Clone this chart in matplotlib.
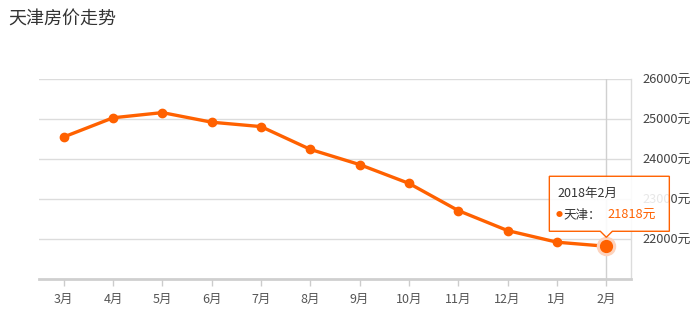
import matplotlib
matplotlib.use("Agg")
import matplotlib.pyplot as plt
import matplotlib.transforms as mtransforms
from matplotlib.patches import Polygon

plt.rcParams["font.family"] = ["Noto Sans CJK SC", "DejaVu Sans"]

# Data
months = ["3月", "4月", "5月", "6月", "7月", "8月", "9月", "10月", "11月", "12月", "1月", "2月"]
prices = [24550, 25030, 25160, 24920, 24810, 24240, 23860, 23390, 22710, 22210, 21920, 21818]
ytick_values = [22000, 23000, 24000, 25000, 26000]
ytick_labels = [f"{v}元" for v in ytick_values]
title = "天津房价走势"
tip_date = "2018年2月"
tip_series = "天津："
tip_value = "21818元"

ORANGE = "#ff6100"
GRID = "#dcdcdc"

fig = plt.figure(figsize=(7.0, 3.24), dpi=100)
ax = fig.add_axes([39 / 700, 45 / 324, 592 / 700, 200 / 324])

x = list(range(len(months)))

# Crosshair on the highlighted month
hi = len(months) - 1
ax.axvline(hi, color="#d0d0d0", lw=1, zorder=1)

ax.plot(x, prices, color=ORANGE, lw=2.4, marker="o", markersize=6,
        zorder=3, solid_joinstyle="round")

# Highlighted point with halo
ax.plot([hi], [prices[hi]], "o", color="#fdd3bd", markersize=13, zorder=4)
ax.plot([hi], [prices[hi]], "o", color=ORANGE, markersize=8.5, zorder=5)

ax.set_xlim(-0.5, len(months) - 0.5)
ax.set_ylim(21000, 26000)
ax.set_xticks(x)
ax.set_xticklabels(months)
ax.set_yticks(ytick_values)
ax.set_yticklabels(ytick_labels)
ax.yaxis.tick_right()

ax.grid(axis="y", color=GRID, lw=1)
ax.set_axisbelow(True)

for side in ["top", "left"]:
    ax.spines[side].set_visible(False)
ax.spines["right"].set_color(GRID)
ax.spines["right"].set_linewidth(1)
ax.spines["bottom"].set_color("#cfcfcf")
ax.spines["bottom"].set_linewidth(2)

ax.tick_params(axis="x", length=5, width=1, color="#cccccc",
               labelcolor="#555555", labelsize=9, pad=5)
ax.tick_params(axis="y", length=0, labelcolor="#444444", labelsize=9.2, pad=8)

fig.text(8 / 700, 1 - 20 / 324, title, fontsize=13, color="#333333",
         va="center", ha="left")

# Tooltip, laid out in pixels relative to the highlighted point (y down)
trans = mtransforms.Affine2D().scale(1, -1) + mtransforms.ScaledTranslation(
    hi, prices[hi], ax.transData)
box = [(-57, -70), (63, -70), (63, -15), (6, -15), (0, -9), (-6, -15), (-57, -15)]
ax.add_patch(Polygon(box, closed=True, transform=trans, facecolor="white",
                     alpha=0.88, edgecolor="none", zorder=10,
                     clip_on=False))
ax.add_patch(Polygon(box, closed=True, transform=trans, facecolor="none",
                     edgecolor=ORANGE, lw=1, zorder=11, clip_on=False,
                     joinstyle="miter"))
ax.text(-49, -53, tip_date, transform=trans, fontsize=9, color="#333333",
        va="center", ha="left", zorder=12, clip_on=False)
ax.text(-51, -31, "●", transform=trans, fontsize=5, color=ORANGE,
        va="center", ha="left", zorder=12, clip_on=False)
ax.text(-43, -31, tip_series, transform=trans, fontsize=9, color="#333333",
        va="center", ha="left", zorder=12, clip_on=False)
ax.text(1, -31, tip_value, transform=trans, fontsize=9.2, color=ORANGE,
        va="center", ha="left", zorder=12, clip_on=False)

fig.savefig("out.png", dpi=100)
